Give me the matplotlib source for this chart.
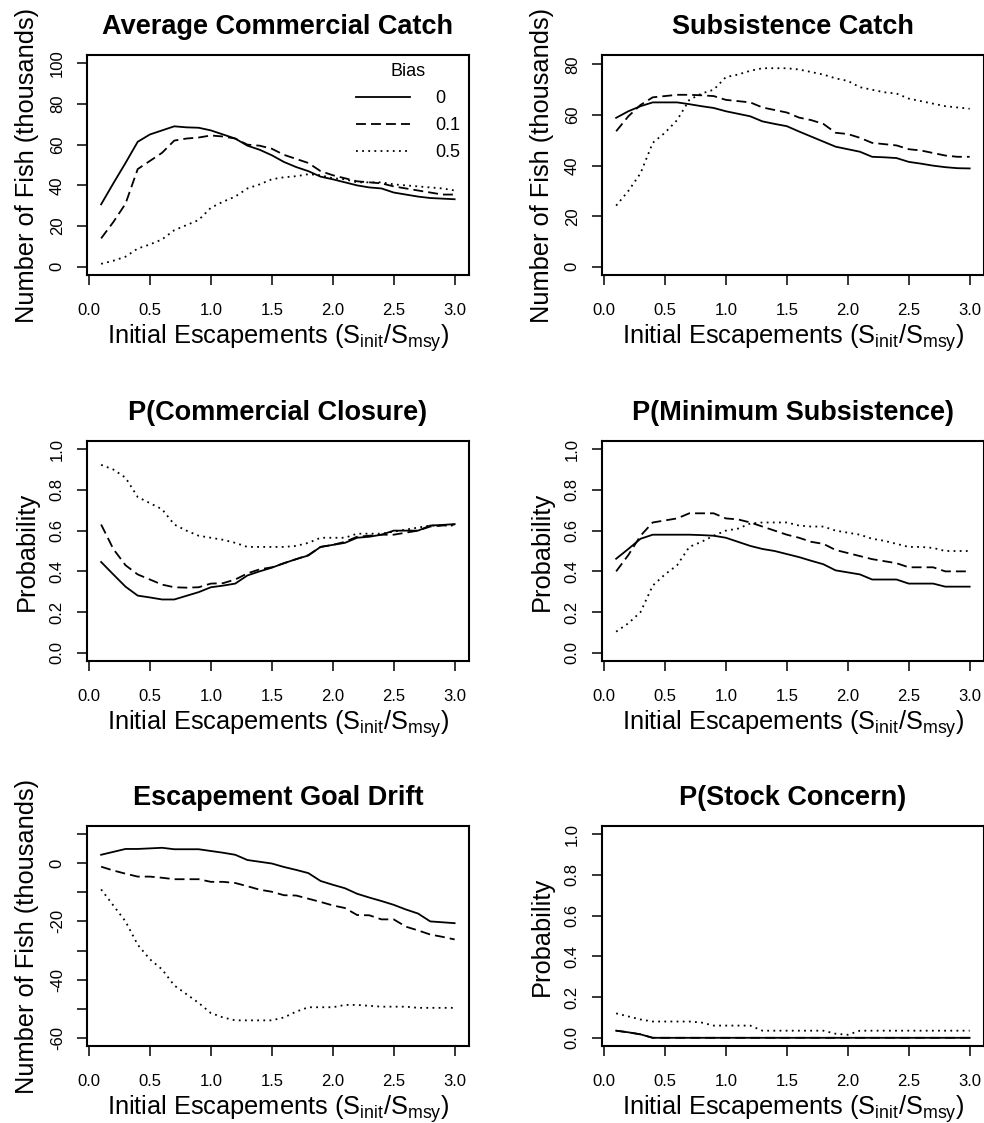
import numpy as np
import matplotlib
matplotlib.use('Agg')
import matplotlib.pyplot as plt

plt.rcParams['font.family'] = ['Liberation Sans', 'DejaVu Sans']
plt.rcParams['mathtext.fontset'] = 'custom'
plt.rcParams['mathtext.rm'] = 'Liberation Sans'
plt.rcParams['mathtext.it'] = 'Liberation Sans:italic'
plt.rcParams['mathtext.bf'] = 'Liberation Sans:bold'

# initial escapement (S_init / S_msy)
esc = [0.1, 0.2, 0.3, 0.4, 0.5, 0.6, 0.7, 0.8, 0.9, 1.0,
       1.1, 1.2, 1.3, 1.4, 1.5, 1.6, 1.7, 1.8, 1.9, 2.0,
       2.1, 2.2, 2.3, 2.4, 2.5, 2.6, 2.7, 2.8, 2.9, 3.0]
bias_labels = ['0', '0.1', '0.5']

# Average commercial catch (thousands)
comm_b0 = [30.7, 41, 51, 61.4, 65, 67, 69, 68.5, 68.3, 67, 65, 63, 59.5, 57.5, 54.8,
           51.5, 49, 47, 44.3, 43, 41.5, 40, 39, 38.5, 36.5, 35.5, 34.5, 33.8, 33.5, 33.2]
comm_b1 = [14, 22, 31, 48, 52, 56, 62, 63, 63.5, 64.5, 64, 63, 60, 59.5, 58,
           55, 53, 51, 47, 45, 43.5, 42, 41.5, 41, 39.5, 38.5, 37.5, 36.5, 35.5, 35.5]
comm_b5 = [1.5, 3, 5, 9, 11, 13.5, 18, 20.5, 23, 29, 32, 34.5, 38.5, 40.5, 43,
           44, 44.5, 45.5, 45, 43.5, 43, 41.5, 41.5, 41.5, 40.5, 40, 39.5, 39, 38.5, 37.5]

# Subsistence catch (thousands)
subs_b0 = [58.9, 61.5, 63.5, 65, 65, 65, 64.3, 63.5, 62.8, 61.5, 60.5, 59.5, 57.5, 56.5, 55.6,
           53.5, 51.5, 49.5, 47.5, 46.5, 45.5, 43.5, 43.3, 43, 41.5, 40.8, 40, 39.4, 39, 38.9]
subs_b1 = [53.6, 59.5, 64, 67, 67.5, 68, 68, 67.8, 67.5, 66, 65.5, 65, 63, 62, 61,
           59, 58, 56.5, 53, 52.5, 51, 49, 48.5, 48, 46.5, 46, 45, 44, 43.5, 43.5]
subs_b5 = [24.2, 30, 37, 49, 53, 58, 66, 68.5, 70, 75, 76, 77.5, 78.5, 78.5, 78.5,
           78, 77, 76, 74.5, 73.5, 71, 70, 69, 68.5, 66.5, 65.5, 64.5, 63.5, 63, 62.5]

# P(commercial closure)
clos_b0 = [0.446, 0.385, 0.325, 0.281, 0.272, 0.262, 0.262, 0.28, 0.298, 0.322, 0.33, 0.34, 0.38, 0.4, 0.418,
           0.44, 0.46, 0.478, 0.52, 0.53, 0.54, 0.565, 0.57, 0.58, 0.6, 0.6, 0.6, 0.625, 0.628, 0.632]
clos_b1 = [0.63, 0.51, 0.43, 0.385, 0.36, 0.335, 0.322, 0.32, 0.322, 0.34, 0.342, 0.36, 0.39, 0.41, 0.42,
           0.44, 0.46, 0.48, 0.52, 0.53, 0.545, 0.57, 0.575, 0.58, 0.58, 0.59, 0.6, 0.62, 0.625, 0.63]
clos_b5 = [0.923, 0.9, 0.86, 0.765, 0.735, 0.705, 0.63, 0.6, 0.575, 0.565, 0.555, 0.54, 0.52, 0.52, 0.52,
           0.52, 0.525, 0.54, 0.565, 0.565, 0.565, 0.585, 0.585, 0.585, 0.595, 0.605, 0.615, 0.625, 0.625, 0.625]

# P(minimum subsistence)
mins_b0 = [0.462, 0.51, 0.56, 0.58, 0.58, 0.58, 0.58, 0.578, 0.575, 0.565, 0.545, 0.525, 0.51, 0.5, 0.485,
           0.47, 0.452, 0.435, 0.405, 0.395, 0.385, 0.36, 0.36, 0.36, 0.34, 0.34, 0.34, 0.325, 0.325, 0.325]
mins_b1 = [0.4, 0.48, 0.575, 0.64, 0.65, 0.66, 0.685, 0.685, 0.685, 0.66, 0.655, 0.64, 0.62, 0.6, 0.58,
           0.565, 0.545, 0.535, 0.505, 0.49, 0.475, 0.46, 0.45, 0.44, 0.42, 0.42, 0.42, 0.4, 0.4, 0.4]
mins_b5 = [0.104, 0.145, 0.2, 0.33, 0.385, 0.43, 0.52, 0.545, 0.575, 0.6, 0.61, 0.635, 0.64, 0.64, 0.64,
           0.625, 0.62, 0.62, 0.6, 0.59, 0.58, 0.56, 0.55, 0.535, 0.52, 0.52, 0.515, 0.5, 0.5, 0.5]

# Escapement goal drift (thousands)
drift_b0 = [2.9, 3.9, 4.9, 4.9, 5.1, 5.3, 4.8, 4.8, 4.8, 4.2, 3.6, 2.9, 1.1, 0.5, -0.1,
            -1.3, -2.3, -3.4, -6.1, -7.4, -8.6, -10.5, -11.8, -13, -14.3, -15.9, -17.3, -20, -20.3, -20.6]
drift_b1 = [-1.2, -2.5, -3.6, -4.6, -4.6, -5, -5.5, -5.5, -5.5, -6.4, -6.4, -6.8, -7.9, -9.1, -9.8,
            -11, -11.1, -12.2, -13.3, -14.5, -15.4, -17.8, -17.9, -19.3, -19.3, -21.8, -23.1, -24.5, -25.3, -26.2]
drift_b5 = [-9, -14.5, -20, -28, -33, -36.5, -42, -45, -48, -51.5, -53, -54, -54, -54, -54,
            -53, -51, -49.5, -49.5, -49.5, -48.7, -48.7, -49, -49.3, -49.3, -49.3, -49.7, -49.7, -49.7, -49.7]

# P(stock concern)
conc_b0 = [0.035, 0.027, 0.017, 0, 0, 0, 0, 0, 0, 0, 0, 0, 0, 0, 0,
           0, 0, 0, 0, 0, 0, 0, 0, 0, 0, 0, 0, 0, 0, 0]
conc_b1 = [0.035, 0.027, 0.017, 0, 0, 0, 0, 0, 0, 0, 0, 0, 0, 0, 0,
           0, 0, 0, 0, 0, 0, 0, 0, 0, 0, 0, 0, 0, 0, 0]
conc_b5 = [0.12, 0.105, 0.09, 0.08, 0.08, 0.08, 0.08, 0.075, 0.06, 0.06, 0.06, 0.06, 0.035, 0.035, 0.035,
           0.035, 0.035, 0.035, 0.02, 0.015, 0.035, 0.035, 0.035, 0.035, 0.035, 0.035, 0.035, 0.035, 0.035, 0.035]

fish_lab = 'Number of Fish (thousands)'
prob_lab = 'Probability'
xlab = r'Initial Escapements (S$_{\mathregular{init}}$/S$_{\mathregular{msy}}$)'

panels = [
    ('Average Commercial Catch', fish_lab, [comm_b0, comm_b1, comm_b5], (0, 100), [0, 20, 40, 60, 80, 100], None),
    ('Subsistence Catch', fish_lab, [subs_b0, subs_b1, subs_b5], (0, 80.5), [0, 20, 40, 60, 80], None),
    ('P(Commercial Closure)', prob_lab, [clos_b0, clos_b1, clos_b5], (0, 1), [0, 0.2, 0.4, 0.6, 0.8, 1.0], None),
    ('P(Minimum Subsistence)', prob_lab, [mins_b0, mins_b1, mins_b5], (0, 1), [0, 0.2, 0.4, 0.6, 0.8, 1.0], None),
    ('Escapement Goal Drift', fish_lab, [drift_b0, drift_b1, drift_b5], (-60, 10),
     [-60, -50, -40, -30, -20, -10, 0, 10], ['-60', '', '-40', '', '-20', '', '0', '']),
    ('P(Stock Concern)', prob_lab, [conc_b0, conc_b1, conc_b5], (0, 1), [0, 0.2, 0.4, 0.6, 0.8, 1.0], None),
]

# axes boxes in figure fractions [left, bottom, width, height]
lefts = [0.0884, 0.6118]
bottoms = [0.7551, 0.4114, 0.0686]
w, h = 0.388, 0.1959

styles = [dict(linestyle='-'), dict(dashes=(5.5, 2.8)), dict(dashes=(1.0, 2.4))]

fig = plt.figure(figsize=(9.84, 11.23), dpi=100)

for i, (title, ylab, series, ylim, yt, ytl) in enumerate(panels):
    ax = fig.add_axes([lefts[i % 2], bottoms[i // 2], w, h])
    for vals, st, lab in zip(series, styles, bias_labels):
        ax.plot(esc, vals, color='black', lw=1.3, label=lab, **st)
    # R style 4% axis expansion
    x0, x1 = min(esc), max(esc)
    ax.set_xlim(x0 - 0.04 * (x1 - x0), x1 + 0.04 * (x1 - x0))
    ax.set_ylim(ylim[0] - 0.04 * (ylim[1] - ylim[0]), ylim[1] + 0.04 * (ylim[1] - ylim[0]))
    ax.set_xticks([0.0, 0.5, 1.0, 1.5, 2.0, 2.5, 3.0])
    ax.set_xticklabels(['0.0', '0.5', '1.0', '1.5', '2.0', '2.5', '3.0'])
    ax.set_yticks(yt)
    if ytl is None:
        if max(yt) <= 1:
            ytl = ['%.1f' % v for v in yt]
        else:
            ytl = ['%g' % v for v in yt]
    ax.set_yticklabels(ytl, rotation=90, va='center')
    ax.tick_params(axis='both', direction='out', length=7, width=1.1, labelsize=12)
    ax.tick_params(axis='x', pad=13)
    ax.tick_params(axis='y', pad=9)
    for sp in ax.spines.values():
        sp.set_linewidth(1.5)
    ax.set_title(title, fontsize=19.5, fontweight='bold', pad=15)
    ax.set_xlabel(xlab, fontsize=18.3, labelpad=3)
    ax.set_ylabel(ylab, fontsize=18.3, labelpad=8)
    if i == 0:
        ax.legend(title='Bias', loc='upper right', frameon=False, fontsize=13,
                  title_fontsize=13, handlelength=3.0, handletextpad=1.4,
                  labelspacing=0.55, borderaxespad=0.05)

fig.savefig('out.png', dpi=100)
